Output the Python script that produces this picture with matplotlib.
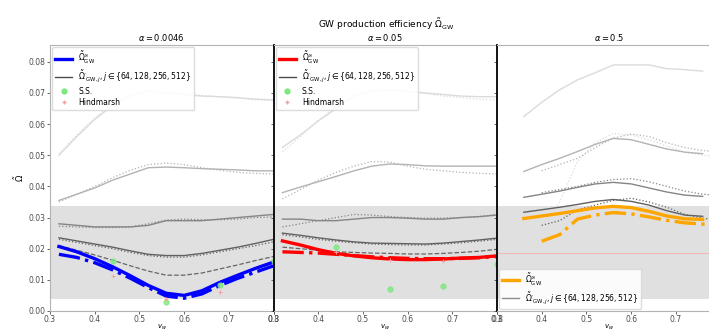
import numpy as np
import matplotlib
matplotlib.use("Agg")
from matplotlib import pyplot as plt

# ---- data ----
vw = [0.32, 0.36, 0.40, 0.44, 0.48, 0.52, 0.56, 0.60, 0.64, 0.68, 0.72, 0.76, 0.80]
vw3 = [0.36, 0.40, 0.44, 0.48, 0.52, 0.56, 0.60, 0.64, 0.68, 0.72, 0.76]
vw3d = [0.40, 0.44, 0.48, 0.52, 0.56, 0.60, 0.64, 0.68, 0.72, 0.76, 0.80]
alphas = ["0.0046", "0.05", "0.5"]
res = [64, 128, 256, 512]

# alpha = 0.0046
a1_solid = [
    [0.050, 0.056, 0.0615, 0.066, 0.069, 0.0705, 0.070, 0.0695, 0.069, 0.0688, 0.0685, 0.068, 0.0678],
    [0.0355, 0.0375, 0.0395, 0.042, 0.044, 0.046, 0.0462, 0.046, 0.0457, 0.0455, 0.0453, 0.045, 0.045],
    [0.028, 0.0275, 0.027, 0.027, 0.027, 0.0275, 0.029, 0.029, 0.029, 0.0295, 0.030, 0.0305, 0.031],
    [0.0235, 0.0225, 0.0215, 0.0205, 0.0193, 0.0182, 0.0178, 0.0178, 0.0185, 0.0195, 0.0205, 0.0217, 0.023],
]
a1_dotted = [
    [0.0505, 0.0565, 0.062, 0.0665, 0.0695, 0.071, 0.0705, 0.0698, 0.0692, 0.0688, 0.0683, 0.0678, 0.0675],
    [0.035, 0.0375, 0.040, 0.0428, 0.0452, 0.047, 0.0475, 0.047, 0.046, 0.0452, 0.0445, 0.0442, 0.044],
    [0.0272, 0.027, 0.0268, 0.0268, 0.027, 0.028, 0.0292, 0.0295, 0.0293, 0.0293, 0.0295, 0.030, 0.0302],
    [0.023, 0.022, 0.021, 0.020, 0.0188, 0.0178, 0.0173, 0.0173, 0.018, 0.019, 0.020, 0.021, 0.0222],
]
a1_dashed = [0.021, 0.0195, 0.018, 0.0163, 0.0145, 0.0128, 0.0115, 0.0115, 0.0122, 0.0135, 0.0148, 0.0162, 0.0175]
a1_inf = [0.0207, 0.019, 0.0168, 0.0142, 0.0113, 0.0082, 0.0057, 0.005, 0.0065, 0.0092, 0.0115, 0.0137, 0.0157]
a1_inf2 = [0.0182, 0.0172, 0.0155, 0.0132, 0.0105, 0.0075, 0.0048, 0.0041, 0.0055, 0.0082, 0.0105, 0.0125, 0.0145]

# alpha = 0.05
a2_solid = [
    [0.0525, 0.0565, 0.061, 0.065, 0.069, 0.0705, 0.071, 0.0705, 0.070, 0.0695, 0.069, 0.0688, 0.0688],
    [0.038, 0.0398, 0.0415, 0.0432, 0.045, 0.0465, 0.0472, 0.047, 0.0466, 0.0465, 0.0465, 0.0465, 0.0465],
    [0.0295, 0.0295, 0.029, 0.029, 0.0295, 0.030, 0.030, 0.0298, 0.0295, 0.0295, 0.030, 0.0303, 0.0308],
    [0.025, 0.0243, 0.0235, 0.0228, 0.0222, 0.0218, 0.0217, 0.0216, 0.0215, 0.0218, 0.0223, 0.0228, 0.0234],
]
a2_dotted = [
    [0.051, 0.056, 0.0612, 0.0655, 0.0695, 0.071, 0.0712, 0.0705, 0.0698, 0.069, 0.0685, 0.068, 0.0678],
    [0.036, 0.039, 0.042, 0.0445, 0.0465, 0.048, 0.0478, 0.0465, 0.0455, 0.045, 0.0445, 0.0442, 0.044],
    [0.027, 0.028, 0.029, 0.030, 0.031, 0.0308, 0.0303, 0.030, 0.0298, 0.0298, 0.030, 0.0303, 0.031],
    [0.0245, 0.0238, 0.023, 0.0224, 0.0219, 0.0215, 0.0213, 0.0212, 0.0212, 0.0215, 0.0219, 0.0224, 0.023],
]
a2_dashed = [0.0205, 0.020, 0.0195, 0.019, 0.0188, 0.0186, 0.0185, 0.0183, 0.0183, 0.0185, 0.0188, 0.0192, 0.0198]
a2_inf = [0.0225, 0.0212, 0.0197, 0.0185, 0.0177, 0.0171, 0.0167, 0.0165, 0.0165, 0.0167, 0.017, 0.0172, 0.0177]
a2_inf2 = [0.019, 0.0188, 0.0186, 0.0182, 0.0178, 0.0174, 0.0171, 0.0169, 0.0168, 0.0168, 0.0169, 0.0171, 0.0175]

# alpha = 0.5
a3_solid = [
    [0.0624, 0.067, 0.071, 0.0742, 0.0765, 0.079, 0.079, 0.079, 0.0778, 0.0775, 0.077],
    [0.0448, 0.047, 0.049, 0.0512, 0.0535, 0.0554, 0.055, 0.0535, 0.052, 0.051, 0.0505],
    [0.0365, 0.0375, 0.0385, 0.0397, 0.0408, 0.0413, 0.0408, 0.0395, 0.0382, 0.0372, 0.0368],
    [0.0317, 0.0325, 0.0333, 0.0342, 0.0352, 0.0358, 0.0352, 0.034, 0.0322, 0.0308, 0.0304],
]
a3_dotted = [
    [0.027, 0.035, 0.048, 0.054, 0.057, 0.0565, 0.055, 0.053, 0.051, 0.050, 0.0495],
    [0.045, 0.047, 0.049, 0.0525, 0.0555, 0.0568, 0.056, 0.054, 0.0525, 0.0515, 0.051],
    [0.038, 0.039, 0.040, 0.0413, 0.0422, 0.0425, 0.0415, 0.040, 0.0385, 0.0375, 0.037],
    [0.0275, 0.029, 0.0325, 0.034, 0.0355, 0.0362, 0.035, 0.0333, 0.031, 0.0298, 0.029],
]
a3_inf = [0.0297, 0.0305, 0.0313, 0.0322, 0.0331, 0.0336, 0.0332, 0.032, 0.0305, 0.0296, 0.0294]
a3_inf2 = [0.0224, 0.0245, 0.0295, 0.0308, 0.0316, 0.0312, 0.0302, 0.0291, 0.0283, 0.0279, 0.0277]

ss_x = [0.44, 0.56, 0.68, 0.80]
ss_1 = [0.016, 0.003, 0.0085, 0.016]
ss_2 = [0.0205, 0.007, 0.008, 0.015]
hm_x = [0.44, 0.56, 0.68, 0.80]
hm_1 = [0.0112, 0.004, 0.006, 0.0152]
hm_2 = [0.019, 0.0165, 0.0162, 0.0188]
hm_line = 0.0187

band = (0.004, 0.0336)

grays = ["0.86", "0.7", "0.52", "0.38"]

fig = plt.figure(figsize=(7.09, 3.33), dpi=100)
left, bottom, w, h = 50 / 709, 22 / 333, 223.5 / 709, 266 / 333
axes = []
for i in range(3):
    ax = fig.add_axes([left + i * w, bottom, w, h], sharey=axes[0] if axes else None)
    axes.append(ax)

panels = [
    (vw, a1_solid, vw, a1_dotted, a1_dashed, a1_inf, vw, a1_inf2, "blue"),
    (vw, a2_solid, vw, a2_dotted, a2_dashed, a2_inf, vw, a2_inf2, "red"),
    (vw3, a3_solid, vw3d, a3_dotted, None, a3_inf, vw3d, a3_inf2, "orange"),
]

for i, (ax, p) in enumerate(zip(axes, panels)):
    xs, sol, xd, dot, dsh, inf, xi2, inf2, col = p
    ax.axhspan(band[0], band[1], color="0.88", zorder=0, lw=0)
    for k in range(4):
        ax.plot(xs, sol[k], color=grays[k], lw=1.0, zorder=2)
        ax.plot(xd, dot[k], color=grays[k], lw=0.9, ls=":", zorder=2)
    if dsh is not None:
        ax.plot(xs, dsh, color="0.4", lw=0.9, ls="--", zorder=2)
    ax.plot(xs, inf, color=col, lw=2.4, zorder=4)
    ax.plot(xi2, inf2, color=col, lw=2.4, ls="-.", zorder=4)

    ax.set_xlim(0.3, 0.8)
    ax.set_xticks([0.3, 0.4, 0.5, 0.6, 0.7, 0.8])
    ax.set_title(r"$\alpha = %s$" % alphas[i], fontsize=6, pad=3)
    ax.set_xlabel(r"$v_w$", fontsize=5, labelpad=-1)
    ax.tick_params(labelsize=5.5, length=2, width=0.6, pad=1.2, colors="0.3")
    for s in ax.spines.values():
        s.set_color("0.7")
        s.set_linewidth(0.8)
    if i > 0:
        ax.spines["left"].set_color("black")
        ax.spines["left"].set_linewidth(1.3)
        ax.tick_params(labelleft=False)

axes[0].set_ylim(0, 0.0854)
axes[0].set_yticks([0.0, 0.01, 0.02, 0.03, 0.04, 0.05, 0.06, 0.07, 0.08])
axes[0].set_yticklabels(["0.00", "0.01", "0.02", "0.03", "0.04", "0.05", "0.06", "0.07", "0.08"])
axes[0].set_ylabel(r"$\tilde{\Omega}$", fontsize=6, labelpad=2)

# reference points
axes[0].plot(ss_x, ss_1, "o", color="#7ee87e", ms=3.5, label="S.S.", zorder=5, alpha=0.8)
axes[0].plot(hm_x, hm_1, "+", color="#f4a0a0", ms=3.5, mew=0.7, label="Hindmarsh", zorder=5)
axes[1].plot(ss_x, ss_2, "o", color="#7ee87e", ms=3.5, label="S.S.", zorder=5, alpha=0.8)
axes[1].plot(hm_x, hm_2, "+", color="#f4a0a0", ms=3.5, mew=0.7, label="Hindmarsh", zorder=5)
axes[2].axhline(hm_line, color="#f2b8b8", lw=0.8, zorder=1)

lab_inf = r"$\tilde{\Omega}^{\infty}_{\rm GW}$"
lab_j = r"$\tilde{\Omega}'_{{\rm GW},j}, j \in \{64, 128, 256, 512\}$"
for i, ax in enumerate(axes):
    col = panels[i][-1]
    hs = [plt.Line2D([], [], color=col, lw=2.4),
          plt.Line2D([], [], color="0.3" if i < 2 else "0.55", lw=1.0)]
    ls = [lab_inf, lab_j]
    if i < 2:
        hs += [plt.Line2D([], [], color="#7ee87e", marker="o", ls="", ms=3.5),
               plt.Line2D([], [], color="#f4a0a0", marker="+", ls="", ms=3.5)]
        ls += ["S.S.", "Hindmarsh"]
        loc = "upper left"
    else:
        loc = "lower left"
    ax.legend(hs, ls, loc=loc, fontsize=5.5, frameon=True, framealpha=0.9,
              edgecolor="0.85", handlelength=2.2, borderpad=0.4, labelspacing=0.3,
              borderaxespad=0.3, fancybox=True)

fig.suptitle(r"GW production efficiency $\tilde{\Omega}_{\rm GW}$", fontsize=6.5, y=0.95, x=0.545)

fig.savefig("out.png", dpi=100)
